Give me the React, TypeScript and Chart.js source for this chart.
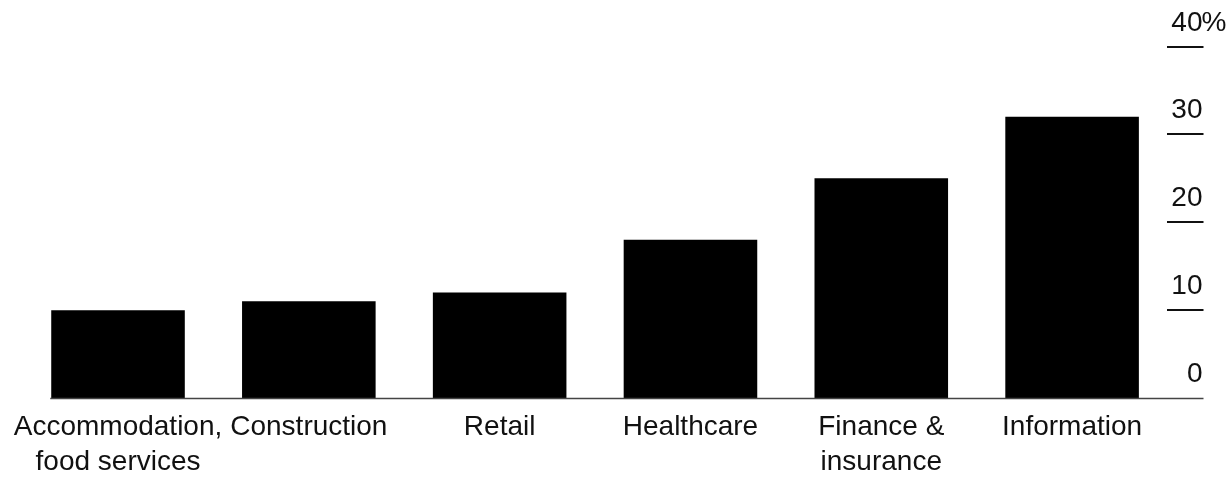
import React, { useEffect, useRef } from "react";
import { Chart, registerables } from "chart.js";

Chart.register(...registerables);

const categories: (string | string[])[] = [
  ["Accommodation,", "food services"],
  "Construction",
  "Retail",
  "Healthcare",
  ["Finance &", "insurance"],
  "Information",
];
const values: number[] = [10, 11, 12, 18, 25, 32];
const yTicks: number[] = [0, 10, 20, 30, 40];
const yTickLabels: string[] = ["0", "10", "20", "30", "40"];
const topSuffix = "%";

const FONT = "'Liberation Sans', Arial, sans-serif";

const rightAxisPlugin = {
  id: "rightAxis",
  afterDraw(chart: any) {
    const { ctx, chartArea, scales } = chart;
    const y = scales.y;
    const tickStart = chartArea.right - 0.5;
    const tickEnd = chartArea.right + 36;
    ctx.save();
    const meta = chart.getDatasetMeta(0);
    const first = meta.data[0] as any;
    const baseLeft = first.x - first.width / 2 - 1;
    const y0 = y.getPixelForValue(0);
    ctx.strokeStyle = "#444";
    ctx.lineWidth = 1.5;
    ctx.beginPath();
    ctx.moveTo(baseLeft, y0 + 0.5);
    ctx.lineTo(tickEnd, y0 + 0.5);
    ctx.stroke();
    ctx.strokeStyle = "#111";
    ctx.lineWidth = 2;
    ctx.font = `28px ${FONT}`;
    ctx.fillStyle = "#111";
    ctx.textBaseline = "alphabetic";
    yTicks.forEach((v, i) => {
      const py = y.getPixelForValue(v);
      if (v !== 0) {
        ctx.beginPath();
        ctx.moveTo(tickStart, Math.round(py));
        ctx.lineTo(tickEnd, Math.round(py));
        ctx.stroke();
      }
      ctx.textAlign = "right";
      ctx.fillText(yTickLabels[i], tickEnd - 1, py - 16);
      if (i === yTicks.length - 1) {
        ctx.textAlign = "left";
        ctx.fillText(topSuffix, tickEnd - 2, py - 16);
      }
    });
    ctx.restore();
  },
};

export default function App() {
  const ref = useRef<HTMLCanvasElement | null>(null);
  useEffect(() => {
    document.body.style.margin = "0";
    if (!ref.current) return;
    const chart = new Chart(ref.current, {
      type: "bar",
      data: {
        labels: categories,
        datasets: [
          {
            data: values,
            backgroundColor: "#000",
            borderWidth: 0,
            categoryPercentage: 1,
            barPercentage: 0.7,
          },
        ],
      },
      options: {
        animation: false,
        responsive: false,
        maintainAspectRatio: false,
        layout: { padding: { left: 21, right: 62.5, top: 46.5, bottom: 0 } },
        plugins: { legend: { display: false }, tooltip: { enabled: false } },
        scales: {
          x: {
            grid: { display: false, drawTicks: false },
            border: { display: false },
            ticks: {
              color: "#111",
              font: { family: FONT, size: 28, lineHeight: 1.25 },
              padding: 12,
              maxRotation: 0,
              autoSkip: false,
            },
            afterFit: (scale: any) => {
              scale.height = 79;
            },
          },
          y: {
            display: false,
            min: 0,
            max: 40,
          },
        },
      },
      plugins: [rightAxisPlugin],
    });
    return () => chart.destroy();
  }, []);
  return (
    <div style={{ position: "absolute", left: 0, top: 0, width: 1230, height: 477 }}>
      <canvas ref={ref} width={1230} height={477} style={{ width: 1230, height: 477 }} />
    </div>
  );
}
